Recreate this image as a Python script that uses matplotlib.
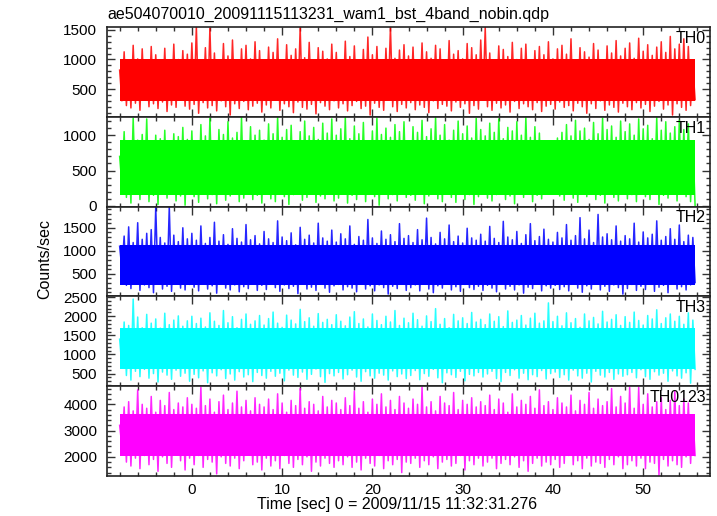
import numpy as np
import matplotlib
matplotlib.use('Agg')
import matplotlib.pyplot as plt
from matplotlib.ticker import MultipleLocator

plt.rcParams['font.family'] = ['Liberation Sans', 'DejaVu Sans']

title = 'ae504070010_20091115113231_wam1_bst_4band_nobin.qdp'
xlabel = 'Time [sec] 0 = 2009/11/15 11:32:31.276'
ylabel = 'Counts/sec'

# light curve: local maxima / minima every 0.5 s, from t = -8 s
t_start = -8.0
step = 0.5

bands = ['TH0', 'TH1', 'TH2', 'TH3', 'TH0123']
colors = ['#ff0000', '#00ff00', '#0000ff', '#00ffff', '#ff00ff']

# range where the curve is drawn so densely that it looks solid
core = [(290, 1000), (160, 930), (260, 1130), (620, 1700), (2050, 3650)]

th0_hi = [820, 1130, 960, 1240, 1010, 1180, 900, 1220, 1080, 940, 1190, 870, 1260, 1000, 1150, 1090,
          1280, 1560, 990, 1200, 1530, 1110, 950, 1270, 1060, 1330, 920, 1180, 1240, 1010, 1300, 1150,
          980, 1210, 1120, 1350, 900, 1250, 1070, 1180, 1540, 1030, 1290, 960, 1200, 1140, 1010, 1260,
          1120, 930, 1310, 1050, 1230, 990, 1170, 1380, 1080, 1220, 940, 1190, 1550, 1020, 1160, 1250,
          1060, 1210, 970, 1280, 1130, 1020, 1240, 1180, 900, 1320, 1090, 1150, 1010, 1270, 1200, 1080,
          1330, 1540, 1110, 960, 1230, 1170, 1050, 1290, 1000, 1190, 1260, 940, 1150, 1220, 1080, 1300,
          1010, 1180, 1240, 1090, 1350, 970, 1200, 1130, 1040, 1270, 1160, 990, 1230, 1110, 1320, 1060,
          1190, 1280, 1020, 1360, 1140, 1250, 1070, 1210, 1300, 1120, 1390, 1180, 1260, 1350, 1220, 880]
th0_lo = [300, 220, 180, 260, 140, 310, 200, 250, 170, 280, 120, 230, 190, 330, 210, 160,
          240, 90, 270, 180, 220, 130, 300, 200, 60, 250, 170, 290, 150, 210, 260, 110,
          230, 180, 320, 140, 250, 200, 100, 280, 190, 160, 240, 80, 270, 210, 150, 300,
          180, 250, 130, 220, 290, 170, 210, 60, 260, 190, 140, 310, 200, 120, 240, 180,
          270, 150, 230, 190, 100, 300, 170, 240, 210, 130, 280, 190, 250, 90, 220, 160,
          310, 200, 140, 260, 180, 230, 110, 290, 170, 250, 200, 150, 270, 120, 210, 240,
          160, 280, 190, 220, 130, 260, 200, 90, 250, 170, 300, 140, 230, 190, 110, 260,
          200, 150, 270, 180, 240, 120, 210, 290, 160, 230, 60, 250, 190, 140, 220, 320]

th1_hi = [700, 1050, 880, 1240, 930, 1010, 1230, 860, 1000, 950, 1070, 900, 1020, 980, 1110, 940,
          1060, 870, 1150, 990, 1240, 920, 1080, 1010, 1190, 960, 1040, 1250, 900, 1120, 1000, 1070,
          930, 1160, 1020, 1250, 970, 1080, 1140, 910, 1050, 1200, 990, 1110, 940, 1170, 1030, 1230,
          1000, 1090, 1250, 950, 1130, 1020, 1180, 900, 1060, 1240, 1010, 1100, 970, 1150, 1050, 1190,
          920, 1120, 1040, 1210, 980, 1090, 1250, 1000, 1150, 930, 1070, 1200, 1020, 1130, 960, 1240,
          1080, 990, 1170, 1040, 1230, 950, 1110, 1060, 1190, 1000, 1250, 970, 1120, 1030, 860, 800,
          780, 960, 1040, 1150, 990, 1210, 1060, 1100, 940, 1180, 1020, 1240, 1080, 1130, 970, 1200,
          1050, 1160, 1000, 1230, 1090, 1140, 950, 1250, 1070, 1190, 1030, 1120, 1210, 1080, 1160, 900]
th1_lo = [300, 120, 40, 180, 90, 210, 60, 150, 20, 170, 110, 230, 70, 140, 10, 190,
          130, 50, 200, 100, 160, 30, 220, 80, 140, 180, 60, 110, 240, 90, 150, 40,
          170, 100, 60, 210, 130, 20, 160, 190, 80, 120, 230, 50, 140, 100, 180, 70,
          110, 200, 40, 150, 90, 170, 60, 220, 130, 10, 190, 100, 160, 70, 210, 120,
          150, 80, 190, 30, 140, 230, 100, 60, 170, 120, 50, 200, 90, 160, 20, 130,
          190, 110, 70, 160, 240, 90, 140, 30, 180, 120, 200, 60, 150, 100, 250, 210,
          230, 140, 80, 190, 110, 50, 170, 130, 220, 90, 150, 40, 180, 120, 70, 200,
          100, 160, 60, 210, 130, 90, 180, 20, 150, 110, 240, 70, 170, 130, 60, 0]

th2_hi = [1100, 1320, 1520, 1180, 1610, 1250, 1380, 1460, 1950, 1290, 1170, 1960, 1340, 1200, 1500, 1260,
          1380, 1230, 1540, 1160, 1290, 1620, 1210, 1350, 1140, 1480, 1270, 1190, 1570, 1240, 1330, 1150,
          1420, 1260, 1180, 1650, 1300, 1220, 1390, 1130, 1510, 1250, 1340, 1170, 1600, 1280, 1210, 1450,
          1190, 1370, 1260, 1540, 1140, 1310, 1230, 1680, 1280, 1160, 1430, 1250, 1350, 1200, 1590, 1270,
          1330, 1180, 1460, 1240, 1710, 1290, 1150, 1400, 1260, 1560, 1200, 1320, 1170, 1490, 1280, 1230,
          1360, 1210, 1530, 1270, 1180, 1640, 1300, 1240, 1420, 1160, 1350, 1590, 1220, 1310, 1470, 1250,
          1190, 1400, 1280, 1570, 1230, 1330, 1720, 1260, 1450, 1180, 1790, 1300, 1370, 1240, 1540, 1210,
          1330, 1260, 1600, 1190, 1410, 1280, 1360, 1650, 1230, 1310, 1480, 1250, 1560, 1200, 1340, 1290]
th2_lo = [600, 250, 180, 320, 140, 260, 200, 90, 290, 170, 230, 120, 310, 190, 150, 270,
          210, 130, 280, 170, 240, 80, 300, 190, 150, 260, 110, 220, 180, 330, 140, 250,
          160, 290, 200, 120, 260, 180, 230, 70, 310, 170, 210, 140, 280, 190, 100, 240,
          270, 150, 220, 190, 110, 300, 170, 240, 130, 260, 200, 60, 230, 180, 290, 140,
          200, 260, 130, 280, 170, 90, 240, 190, 310, 150, 220, 120, 270, 200, 160, 230,
          140, 250, 190, 110, 290, 170, 230, 150, 260, 80, 210, 180, 300, 130, 240, 190,
          250, 160, 220, 130, 280, 190, 100, 240, 170, 310, 150, 230, 120, 260, 200, 60,
          180, 270, 140, 230, 160, 300, 120, 210, 250, 90, 280, 170, 220, 150, 260, 310]

th3_hi = [1400, 1850, 1760, 2450, 1980, 1700, 2050, 1820, 1930, 1690, 2080, 1780, 1900, 2010, 1740, 1880,
          2000, 1810, 1950, 1720, 2090, 1870, 1760, 2150, 1830, 1990, 1700, 1920, 2060, 1790, 1880, 2020,
          1770, 1940, 2110, 1820, 1710, 2030, 1900, 1800, 2180, 1860, 1960, 1740, 2070, 1840, 1920, 1780,
          2040, 1870, 1750, 1980, 2120, 1810, 1930, 1720, 2060, 1890, 1780, 2000, 1850, 2150, 1760, 1950,
          1830, 2080, 1910, 1740, 2010, 1860, 2200, 1790, 1940, 1700, 2050, 1880, 1960, 1810, 2100, 1850,
          1920, 1780, 2060, 1870, 1990, 1730, 2140, 1840, 1900, 2020, 1770, 1950, 2080, 1820, 1880, 2350,
          1860, 2000, 1750, 2090, 1830, 1940, 1710, 2060, 1880, 1970, 1800, 2130, 1850, 1920, 2040, 1760,
          1990, 1840, 2110, 1890, 1770, 2020, 1930, 2170, 1810, 1960, 2060, 1870, 2000, 1790, 2090, 1900]
th3_lo = [700, 450, 330, 560, 420, 610, 380, 500, 280, 540, 460, 350, 590, 430, 510, 300,
          480, 390, 570, 260, 520, 440, 600, 370, 490, 330, 550, 410, 470, 290, 530, 450,
          380, 560, 430, 510, 310, 590, 460, 400, 540, 350, 480, 620, 420, 270, 500, 440,
          530, 360, 470, 590, 410, 300, 550, 440, 380, 510, 460, 330, 570, 420, 490, 370,
          450, 580, 340, 500, 430, 610, 390, 260, 520, 470, 400, 560, 310, 480, 440, 530,
          410, 490, 560, 370, 290, 530, 450, 600, 380, 510, 340, 470, 420, 580, 360, 500,
          540, 400, 470, 330, 590, 440, 380, 510, 280, 560, 460, 410, 530, 350, 490, 430,
          470, 530, 390, 600, 420, 350, 550, 460, 510, 300, 570, 440, 380, 520, 250, 610]

th0123_hi = [3200, 3900, 4100, 3750, 4550, 4000, 3850, 4300, 3700, 4150, 3950, 4450, 3800, 4050, 3900, 4250,
             4000, 3850, 4650, 3950, 4200, 3700, 4100, 4350, 3800, 4050, 4500, 3900, 4150, 3750, 4250, 4000,
             3900, 4200, 3800, 4400, 4050, 3700, 4150, 3950, 4600, 3850, 4100, 4000, 3750, 4300, 3900, 4150,
             4050, 3800, 4250, 3950, 4500, 3850, 4100, 3700, 4200, 4000, 4400, 3900, 4150, 3800, 4300, 4050,
             3850, 4200, 4000, 4650, 3900, 4100, 3750, 4300, 4050, 3950, 4450, 3800, 4150, 4000, 4250, 3900,
             4100, 3950, 4350, 3800, 4200, 4050, 3700, 4400, 3900, 4150, 4000, 4300, 3850, 4550, 3950, 4100,
             3800, 4250, 4050, 3900, 4350, 3750, 4150, 4000, 4450, 3850, 4200, 3950, 4100, 4600, 3900, 4300,
             4050, 4650, 3850, 4650, 4000, 4400, 3900, 4100, 4250, 3800, 4150, 4500, 3950, 4200, 4050, 3600]
th0123_lo = [2400, 1800, 1650, 1950, 1550, 2050, 1700, 1900, 1450, 2000, 1750, 1600, 2100, 1850, 1500, 1950,
             1700, 2050, 1600, 1900, 1800, 1350, 2000, 1750, 1650, 1950, 1550, 1850, 2100, 1700, 1800, 1500,
             1950, 1650, 1850, 1550, 2050, 1750, 1600, 1900, 1700, 2000, 1450, 1800, 1650, 1950, 1750, 1600,
             1850, 1700, 2000, 1600, 1800, 1500, 1950, 1750, 1650, 2050, 1550, 1850, 1700, 1900, 1400, 1800,
             1750, 1950, 1600, 1850, 1700, 2000, 1550, 1800, 1900, 1650, 1750, 2050, 1500, 1850, 1700, 1950,
             1650, 1800, 1950, 1550, 1750, 1900, 1700, 2000, 1600, 1850, 1450, 1750, 1950, 1650, 1800, 1700,
             1900, 1600, 1750, 2050, 1700, 1850, 1550, 1950, 1650, 1800, 1750, 1600, 1900, 1700, 2000, 1550,
             1700, 1850, 1650, 1950, 1550, 1800, 1750, 1300, 1900, 1650, 1850, 1700, 1600, 2000, 1750, 2050]

highs = [th0_hi, th1_hi, th2_hi, th3_hi, th0123_hi]
lows = [th0_lo, th1_lo, th2_lo, th3_lo, th0123_lo]

ylims = [(30, 1550), (-10, 1260), (10, 1960), (170, 2520), (1270, 4690)]
yticks = [[500, 1000, 1500], [0, 500, 1000], [500, 1000, 1500],
          [500, 1000, 1500, 2000, 2500], [2000, 3000, 4000]]
yminor = [100, 100, 100, 100, 200]

fig = plt.figure(figsize=(7.17, 5.16), dpi=100)
left, right = 107 / 717, 710 / 717
top, bottom = 1 - 27 / 516, 1 - 476 / 516
h = (top - bottom) / 5

axes = []
for k in range(5):
    y0 = top - (k + 1) * h
    ax = fig.add_axes([left, y0, right - left, h], sharex=axes[0] if axes else None)
    axes.append(ax)

    hi = np.array(highs[k], dtype=float)
    lo = np.array(lows[k], dtype=float)
    t_hi = t_start + step * np.arange(len(hi))
    t_lo = t_hi + step / 2
    zz_t = np.column_stack([t_hi, t_lo]).ravel()
    zz_y = np.column_stack([hi, lo]).ravel()

    ax.fill_between([zz_t[0], zz_t[-1]], core[k][0], core[k][1], color=colors[k], lw=0)
    ax.plot(zz_t, zz_y, color=colors[k], lw=1.1, alpha=0.85)

    ax.set_ylim(*ylims[k])
    ax.set_yticks(yticks[k])
    ax.yaxis.set_minor_locator(MultipleLocator(yminor[k]))
    ax.set_xlim(-9.4, 57.4)
    ax.xaxis.set_major_locator(MultipleLocator(10))
    ax.xaxis.set_minor_locator(MultipleLocator(2))
    ax.tick_params(which='both', direction='in', top=True, right=True,
                   labelsize=11, width=1.0, color='#333333')
    ax.tick_params(which='major', length=6, pad=7)
    ax.tick_params(which='minor', length=3)
    ax.tick_params(axis='x', which='major', pad=5)
    for sp in ax.spines.values():
        sp.set_linewidth(1.2)
        sp.set_color('#222222')
    if k < 4:
        ax.tick_params(labelbottom=False)
    ax.text(0.993, 0.875, bands[k], transform=ax.transAxes, ha='right', va='center',
            fontsize=11.5)

fig.text(left, 1 - 14 / 516, title, ha='left', va='center', fontsize=11.5)
fig.text(397 / 717, 1 - 505 / 516, xlabel, ha='center', va='center', fontsize=11.5)
fig.text(45 / 717, 1 - 259 / 516, ylabel, ha='center', va='center', rotation=90, fontsize=11.5)

fig.savefig('out.png', dpi=100)
